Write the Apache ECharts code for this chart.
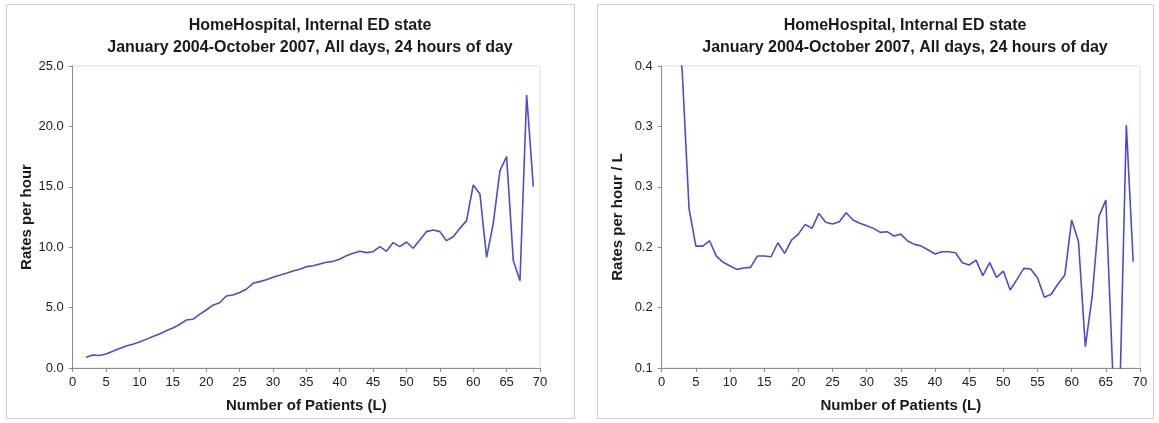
<!DOCTYPE html>
<html>
<head>
<meta charset="utf-8">
<script src="https://cdn.jsdelivr.net/npm/echarts@6/dist/echarts.min.js"></script>
<style>
  html, body { margin: 0; padding: 0; background: #ffffff; }
  #chart { width: 1159px; height: 423px; }
</style>
</head>
<body>
<div id="chart"></div>
<script>
// ---- Data ----
const chartTitle = "HomeHospital, Internal ED state\nJanuary 2004-October 2007, All days, 24 hours of day";
const xAxisTitle = "Number of Patients (L)";
const leftYAxisTitle = "Rates per hour";
const rightYAxisTitle = "Rates per hour / L";

const patients = [2, 3, 4, 5, 6, 7, 8, 9, 10, 11, 12, 13, 14, 15, 16, 17, 18, 19, 20,
  21, 22, 23, 24, 25, 26, 27, 28, 29, 30, 31, 32, 33, 34, 35, 36, 37, 38, 39, 40,
  41, 42, 43, 44, 45, 46, 47, 48, 49, 50, 51, 52, 53, 54, 55, 56, 57, 58, 59, 60,
  61, 62, 63, 64, 65, 66, 67, 68, 69];

const ratesPerHour = [0.89, 1.08, 1.03, 1.16, 1.38, 1.62, 1.82, 1.96, 2.15, 2.37,
  2.6, 2.82, 3.09, 3.31, 3.6, 3.97, 4.03, 4.44, 4.8, 5.2,
  5.4, 5.96, 6.04, 6.25, 6.52, 7.01, 7.15, 7.31, 7.51, 7.67,
  7.84, 8.03, 8.17, 8.39, 8.47, 8.61, 8.75, 8.83, 9.0, 9.3,
  9.5, 9.66, 9.55, 9.63, 10.05, 9.66, 10.38, 10.05, 10.43, 9.91,
  10.6, 11.29, 11.43, 11.29, 10.54, 10.87, 11.56, 12.2, 15.15, 14.41,
  9.16, 11.98, 16.34, 17.5, 8.89, 7.23, 22.6, 15.01];

const ratesPerHourPerL = [0.46, 0.395, 0.2586, 0.2211, 0.2211, 0.2264, 0.2112, 0.205, 0.2013, 0.198,
  0.1993, 0.2, 0.2112, 0.2112, 0.2105, 0.2244, 0.2139, 0.2271, 0.233, 0.2427,
  0.2387, 0.2536, 0.2447, 0.243, 0.2453, 0.2542, 0.247, 0.2437, 0.2413, 0.2387,
  0.2347, 0.2354, 0.2311, 0.233, 0.2261, 0.2228, 0.2211, 0.2172, 0.2132, 0.2155,
  0.2155, 0.2145, 0.2046, 0.2023, 0.2072, 0.1917, 0.2046, 0.19, 0.1963, 0.1775,
  0.188, 0.199, 0.1983, 0.1897, 0.1702, 0.1732, 0.1834, 0.1923, 0.247, 0.2254,
  0.1212, 0.1708, 0.2509, 0.2668, 0.098, 0.06, 0.3413, 0.2056];

// ---- Chart ----
const FONT = "'Liberation Sans', Arial, sans-serif";
const lineColor = '#4c4cd2';

function pairs(xs, ys) { return xs.map((x, i) => [x, ys[i]]); }

function xAxisCfg(gridIndex) {
  return {
    type: 'value', gridIndex: gridIndex, min: 0, max: 70, interval: 5,
    name: xAxisTitle, nameLocation: 'middle', nameGap: 30,
    nameTextStyle: { fontFamily: FONT, fontSize: 15, fontWeight: 'bold', color: '#1a1a1a' },
    axisLine: { show: true, onZero: false, lineStyle: { color: '#8c8c8c', width: 1 } },
    axisTick: { show: true, inside: false, length: 4, lineStyle: { color: '#8c8c8c' } },
    axisLabel: { fontFamily: FONT, fontSize: 13, color: '#222', margin: 8 },
    splitLine: { show: false }
  };
}

function yAxisCfg(gridIndex, name, min, max, interval) {
  return {
    type: 'value', gridIndex: gridIndex, min: min, max: max, interval: interval,
    name: name, nameLocation: 'middle', nameGap: 36,
    nameTextStyle: { fontFamily: FONT, fontSize: 15, fontWeight: 'bold', color: '#1a1a1a' },
    axisLine: { show: true, lineStyle: { color: '#8c8c8c', width: 1 } },
    axisTick: { show: true, inside: false, length: 4, lineStyle: { color: '#8c8c8c' } },
    axisLabel: { fontFamily: FONT, fontSize: 13, color: '#222', margin: 9,
      formatter: v => Number(v).toFixed(1) },
    splitLine: { show: false }
  };
}

const chart = echarts.init(document.getElementById('chart'), null, { renderer: 'canvas' });
chart.setOption({
  animation: false,
  backgroundColor: '#ffffff',
  graphic: [
    { type: 'rect', shape: { x: 6.5, y: 4.5, width: 568, height: 414 },
      style: { fill: 'none', stroke: '#cfcfcf', lineWidth: 1 }, z: -10 },
    { type: 'rect', shape: { x: 597.5, y: 4.5, width: 556, height: 414 },
      style: { fill: 'none', stroke: '#cfcfcf', lineWidth: 1 }, z: -10 }
  ],
  title: [
    { text: chartTitle, left: 305, top: 10, textAlign: 'center',
      textStyle: { fontFamily: FONT, fontSize: 16, fontWeight: 'bold', color: '#1a1a1a', lineHeight: 22 } },
    { text: chartTitle, left: 900, top: 10, textAlign: 'center',
      textStyle: { fontFamily: FONT, fontSize: 16, fontWeight: 'bold', color: '#1a1a1a', lineHeight: 22 } }
  ],
  grid: [
    { left: 72.7, right: 1159 - 540, top: 66, bottom: 423 - 368, show: true,
      borderColor: '#dcdcdc', borderWidth: 1, backgroundColor: 'transparent' },
    { left: 661.7, right: 1159 - 1140, top: 66, bottom: 423 - 368, show: true,
      borderColor: '#dcdcdc', borderWidth: 1, backgroundColor: 'transparent' }
  ],
  xAxis: [xAxisCfg(0), xAxisCfg(1)],
  yAxis: [
    yAxisCfg(0, leftYAxisTitle, 0, 25, 5),
    yAxisCfg(1, rightYAxisTitle, 0.1, 0.4, 0.06)
  ],
  series: [
    { type: 'line', xAxisIndex: 0, yAxisIndex: 0, data: pairs(patients, ratesPerHour),
      showSymbol: false, clip: true, lineStyle: { color: lineColor, width: 1.6 } },
    { type: 'line', xAxisIndex: 1, yAxisIndex: 1, data: pairs(patients, ratesPerHourPerL),
      showSymbol: false, clip: true, lineStyle: { color: lineColor, width: 1.6 } }
  ]
});
</script>
</body>
</html>
